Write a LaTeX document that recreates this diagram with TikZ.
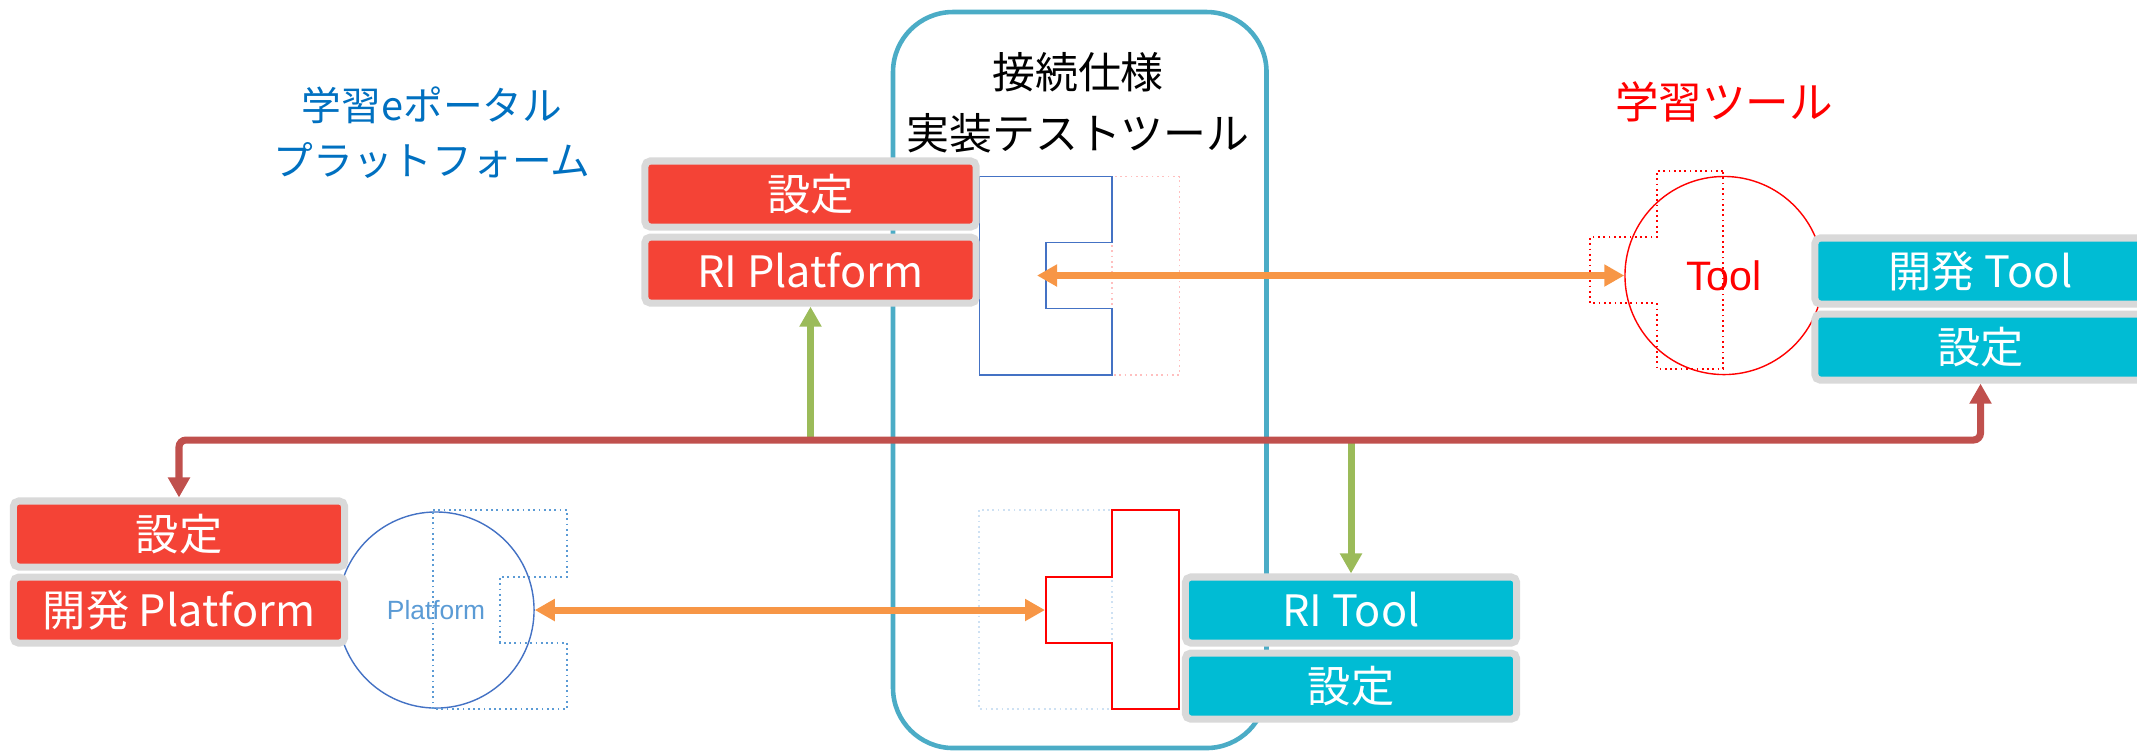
\documentclass[tikz,border=0pt]{standalone}
\usepackage{fontspec}
\setmainfont{Noto Sans CJK JP}
\newfontfamily\latinsf{Liberation Sans}
\usepackage{xcolor}
\usepackage{tikz}
\usetikzlibrary{arrows.meta,positioning}

\definecolor{boxred}{HTML}{F44336}
\definecolor{boxcyan}{HTML}{00BCD4}
\definecolor{framegray}{HTML}{D9D9D9}
\definecolor{testteal}{HTML}{4BACC6}
\definecolor{busred}{HTML}{C0504D}
\definecolor{linkgreen}{HTML}{9BBB59}
\definecolor{linkorange}{HTML}{F79646}
\definecolor{titleblue}{HTML}{0070C0}
\definecolor{plugblue}{HTML}{4472C4}
\definecolor{platblue}{HTML}{5B9BD5}

\begin{document}
\begin{tikzpicture}[x=0.01cm, y=-0.01cm, >={Triangle[length=0.2cm,width=0.21cm]}, line width=2pt]
  \tikzstyle{box}=[draw=framegray, line width=2pt, rounded corners=1.5pt, minimum width=3.31cm, minimum height=0.66cm, inner sep=0pt, text=white, font=\fontsize{12.3}{14}\selectfont]
  \tikzstyle{redbox}=[box, fill=boxred]
  \tikzstyle{cyanbox}=[box, fill=boxcyan]
  \tikzstyle{plug}=[line width=0.45pt]
  \tikzstyle{ghost}=[line width=0.5pt, densely dotted]

  \useasboundingbox (0,0) rectangle (2137,750);

  % Test tool frame and titles
  \draw[testteal, line width=1.3pt, rounded corners=0.6cm] (893,12) rectangle (1266.5,748);
  \node[align=center, font=\fontsize{12.2}{17.3}\selectfont] (ttlTest) at (1078,103) {接続仕様\\実装テストツール};
  \node[align=center, text=titleblue, font=\fontsize{11.3}{15.6}\selectfont] (ttlPortal) at (432,133) {学習eポータル\\プラットフォーム};
  \node[text=red, font=\fontsize{12.4}{14}\selectfont] (ttlTool) at (1724,102) {学習ツール};

  % Platform side
  \node[circle, draw=plugblue, line width=0.4pt, minimum size=1.96cm, inner sep=0pt, text=platblue, font=\latinsf\fontsize{7.5}{9}\selectfont] (platC) at (436,610) {Platform};
  \draw[ghost, platblue] (433,510) -- (567,510) -- (567,576.7) -- (500,576.7) -- (500,642.7) -- (567,642.7) -- (567,709) -- (433,709) -- cycle;

  % Tool side
  \node[circle, draw=red, line width=0.4pt, minimum size=1.98cm, inner sep=0pt, text=red, font=\latinsf\fontsize{11.7}{13}\selectfont] (toolC) at (1724,275.5) {Tool};
  \draw[ghost, red] (1723,170.7) -- (1656.7,170.7) -- (1656.7,237.3) -- (1590,237.3) -- (1590,303.3) -- (1656.7,303.3) -- (1656.7,369) -- (1723,369) -- cycle;

  % Plugs of the test tool
  \draw[ghost, red!25] (1112,176.5) rectangle (1179.5,375);
  \draw[plug, plugblue] (979.5,176.5) -- (1112,176.5) -- (1112,242.5) -- (1046,242.5) -- (1046,308.5) -- (1112,308.5) -- (1112,375) -- (979.5,375) -- cycle;
  \draw[ghost, platblue!30] (979,510) rectangle (1112,709);
  \draw[plug, red] (1112,510) -- (1179,510) -- (1179,709) -- (1112,709) -- (1112,642.7) -- (1046,642.7) -- (1046,576.7) -- (1112,576.7) -- cycle;
  \coordinate (sockPF) at (1037,275.5);
  \coordinate (plugRI) at (1045,610);

  % Boxes
  \node[redbox] (setPF) at (810.5,194) {設定};
  \node[redbox] (riPF) [below=0.03cm of setPF] {RI Platform};
  \node[redbox] (setPlat) at (179,534) {設定};
  \node[redbox] (devPlat) [below=0.03cm of setPlat] {開発 Platform};
  \node[cyanbox] (riTool) at (1351,610) {RI Tool};
  \node[cyanbox] (setRI) [below=0.03cm of riTool] {設定};
  \node[cyanbox] (devTool) at (1980.5,271) {開発 Tool};
  \node[cyanbox] (setTool) [below=0.03cm of devTool] {設定};

  % Links
  \coordinate (bus) at (1000,440);
  \draw[->, linkgreen] (riPF.south |- bus) -- (riPF.south);
  \draw[->, linkgreen] (riTool.north |- bus) -- (riTool.north);
  \draw[<->, busred, rounded corners=2pt] (setPlat.north) |- (bus) -| (setTool.south);
  \draw[<->, linkorange] (toolC.west) -- (sockPF);
  \draw[<->, linkorange] (platC.east) -- (plugRI);
\end{tikzpicture}
\end{document}
